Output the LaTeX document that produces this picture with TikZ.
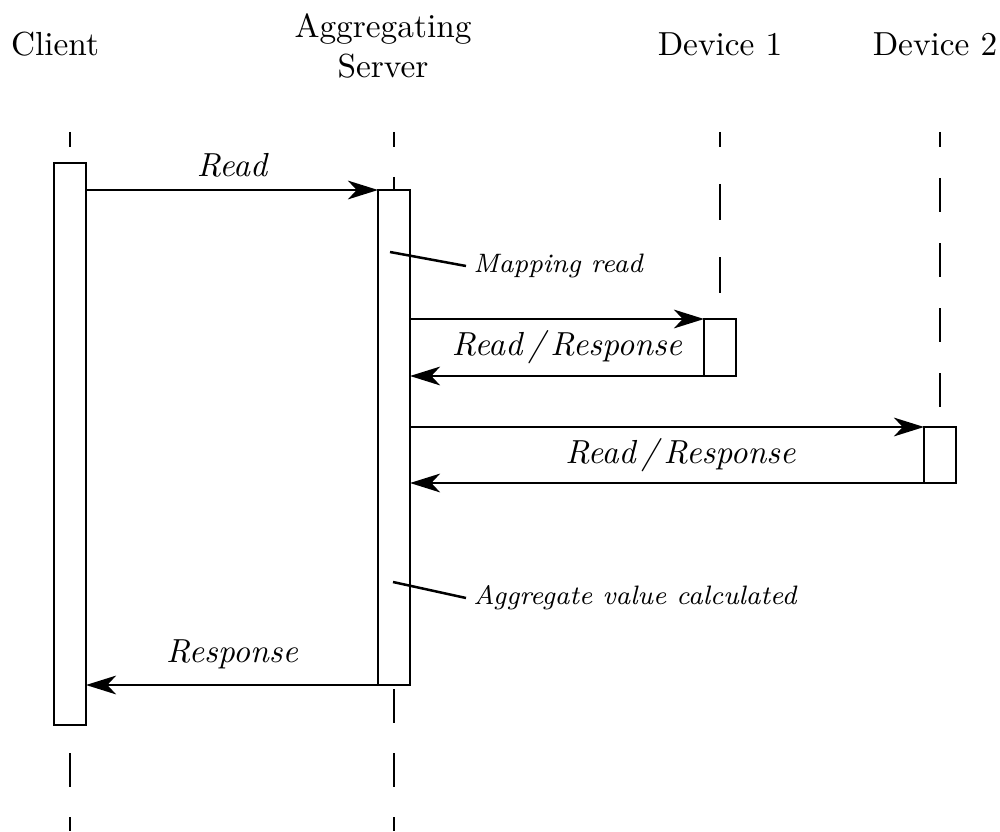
\documentclass[tikz,border=0pt]{standalone}
\usetikzlibrary{arrows.meta,positioning}

\begin{document}
\begin{tikzpicture}[x=0.3pt, y=-0.3pt, >={Stealth[length=9pt,width=5.6pt,inset=2.6pt]},
  actor/.style={align=center},
  bar/.style={draw, line width=0.75pt, fill=white, minimum width=9.6pt, inner sep=0pt, outer sep=0pt},
  msg/.style={->, line width=0.85pt},
  lbl/.style={font=\itshape},
  note/.style={font=\footnotesize\itshape, anchor=west, inner sep=2pt},
  lifeline/.style={line width=0.75pt}]
\useasboundingbox (0,0) rectangle (1000,831);
\node[actor] (client) at (55,44) {Client};
\node[actor] (server) at (383,46) {Aggregating\\Server};
\node[actor] (dev1) at (720,44) {Device 1};
\node[actor] (dev2) at (935,44) {Device 2};
% x / end / on / off / phase
\foreach \lx/\ly/\lon/\loff/\lph in {70/831/10.2/9/5.7, 394/831/10.2/9/5.7, 720/319/10.8/11.1/6.3, 940/427/10.2/9.3/5.7}
  \draw[lifeline, dash pattern=on \lon pt off \loff pt, dash phase=\lph pt] (\lx,132) -- (\lx,\ly);
\node[bar, minimum height=168.6pt] (cbar) at (70,444) {};
\node[bar, minimum height=148.5pt] (sbar) at (394,437.5) {};
\node[bar, minimum height=17.1pt] (d1bar) at (720,347.5) {};
\node[bar, minimum height=16.8pt] (d2bar) at (940,455) {};
\draw[msg] (cbar.east |- sbar.north) -- node[lbl, midway, above] {Read} (sbar.north west);
\draw[msg] (sbar.east |- d1bar.north) -- (d1bar.north west);
\draw[msg] (d1bar.south west) -- (sbar.east |- d1bar.south);
\path (sbar.east |- d1bar.north) -- node[lbl, xshift=3pt] (resp1) {Read\,/\,Response} (d1bar.south west);
\draw[msg] (sbar.east |- d2bar.north) -- (d2bar.north west);
\draw[msg] (d2bar.south west) -- (sbar.east |- d2bar.south);
\path (sbar.east |- d2bar.north) -- node[lbl, xshift=4pt] (resp2) {Read\,/\,Response} (d2bar.south west);
\draw[msg] (sbar.south west) -- node[lbl, midway, above, yshift=1pt] {Response} (cbar.east |- sbar.south);
\coordinate (mapin) at (390,252);
\node[note] (mapnote) at (466,266) {Mapping read};
\draw[line width=0.75pt] (mapin) -- (mapnote.west);
\coordinate (aggin) at (393,582);
\node[note] (aggnote) at (466,598) {Aggregate value calculated};
\draw[line width=0.75pt] (aggin) -- (aggnote.west);
\end{tikzpicture}
\end{document}
